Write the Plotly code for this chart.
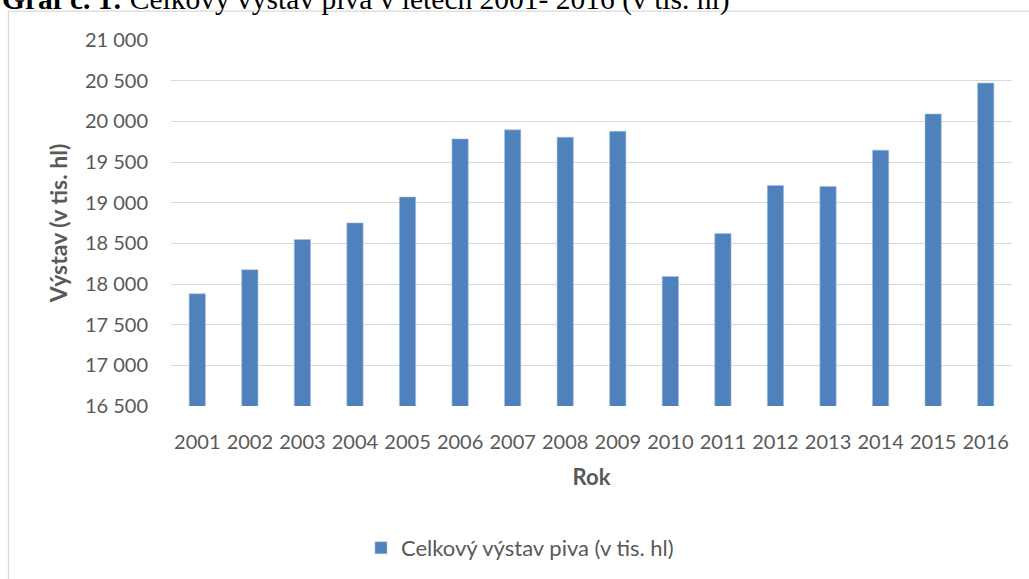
import plotly.graph_objects as go

# Beer output in the Czech Republic, thousands of hectolitres
years = ["2001", "2002", "2003", "2004", "2005", "2006", "2007", "2008",
         "2009", "2010", "2011", "2012", "2013", "2014", "2015", "2016"]
output_thl = [17880, 18175, 18548, 18751, 19070, 19784, 19895, 19805,
              19878, 18093, 18620, 19212, 19200, 19646, 20091, 20471]
y_ticks = [16500, 17000, 17500, 18000, 18500, 19000, 19500, 20000, 20500, 21000]

series_name = "Celkový výstav piva (v tis. hl)"
title_text = "<b>Graf č. 1:</b> Celkový výstav piva v letech 2001- 2016 (v tis. hl)"

W, H = 1029, 579
ML, MR, MT, MB = 171, 17, 40, 172
PW, PH = W - ML - MR, H - MT - MB


def px_x(x):
    return (x - ML) / PW


def px_y(y):
    return (H - MB - y) / PH


BAR_COLOR = "#4F81BD"
GRID = "#D9D9D9"
TEXT = "#595959"
FONT = "Lato"

fig = go.Figure(
    go.Bar(
        x=years,
        y=output_thl,
        name=series_name,
        marker=dict(color=BAR_COLOR, line=dict(color="#A9C1E0", width=0.6)),
        showlegend=True,
    )
)

fig.update_layout(
    width=W,
    height=H,
    margin=dict(l=ML, r=MR, t=MT, b=MB, pad=0),
    paper_bgcolor="white",
    plot_bgcolor="white",
    bargap=0.69,
    separators=", ",
    font=dict(family=FONT, size=20, color=TEXT),
    showlegend=True,
    legend=dict(
        orientation="h",
        x=px_x(361),
        y=px_y(548),
        xanchor="left",
        yanchor="middle",
        bgcolor="rgba(0,0,0,0)",
        font=dict(family=FONT, size=22, color=TEXT),
    ),
    xaxis=dict(
        type="category",
        showgrid=False,
        showline=False,
        ticks="",
        ticklabelstandoff=22,
        tickfont=dict(family=FONT, size=20, color=TEXT),
        title=dict(text="<b>Rok</b>", standoff=17,
                   font=dict(family=FONT, size=22, color=TEXT)),
    ),
    yaxis=dict(
        range=[16500, 21000],
        tickvals=y_ticks,
        tickformat=",d",
        showgrid=True,
        gridcolor=GRID,
        gridwidth=1.3,
        zeroline=False,
        showline=False,
        ticks="",
        ticklabelstandoff=22,
        tickfont=dict(family=FONT, size=20, color=TEXT),
        title=dict(text="<b>Výstav (v tis. hl)</b>", standoff=10,
                   font=dict(family=FONT, size=23, color=TEXT)),
    ),
    shapes=[
        # outer frame of the chart area
        dict(type="rect", xref="paper", yref="paper",
             x0=px_x(8.5), x1=px_x(1040), y0=px_y(600), y1=px_y(11),
             line=dict(color=GRID, width=1.3), fillcolor="rgba(0,0,0,0)",
             layer="below"),
    ],
    annotations=[
        dict(text=title_text, xref="paper", yref="paper",
             x=px_x(0), y=px_y(8), xanchor="left", yanchor="bottom",
             showarrow=False, yshift=-10,
             font=dict(family="Liberation Serif", size=29.5, color="black")),
    ],
)

fig.write_html("out.html")
